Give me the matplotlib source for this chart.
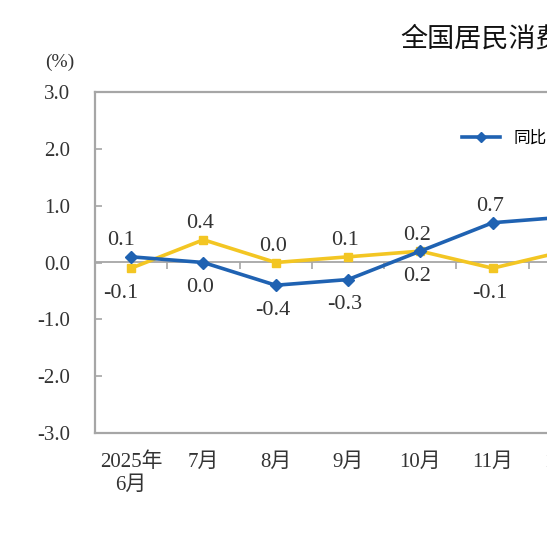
import matplotlib
matplotlib.use("Agg")
import matplotlib.pyplot as plt
from matplotlib.lines import Line2D

# ---- data ----
months = ["2025年\n6月", "7月", "8月", "9月", "10月", "11月", "12月"]
yoy = [0.1, 0.0, -0.4, -0.3, 0.2, 0.7, 0.8]     # 同比
mom = [-0.1, 0.4, 0.0, 0.1, 0.2, -0.1, 0.2]     # 环比
yticks = [-3.0, -2.0, -1.0, 0.0, 1.0, 2.0, 3.0]
ytick_labels = ["-3.0", "-2.0", "-1.0", "0.0", "1.0", "2.0", "3.0"]
title = "全国居民消费价格涨跌幅"
series_names = ["同比", "环比"]

BLUE = "#1F62B2"
YELLOW = "#F3C623"
GRAY = "#A6A6A6"
TXT = "#333333"
SERIF = ["Liberation Serif", "Noto Sans CJK SC"]
CJK = ["Noto Sans CJK SC", "DejaVu Sans"]

W = H = 547
fig = plt.figure(figsize=(W / 100, H / 100), dpi=100)

left_px, top_px, bottom_px = 95, 92, 433
slot_px = 72.3
n_slots = 8
ax = fig.add_axes([left_px / W, 1 - bottom_px / H, n_slots * slot_px / W, (bottom_px - top_px) / H])

x = list(range(len(months)))
ax.plot(x, yoy, color=BLUE, lw=2.6, marker="D", ms=6, mec=BLUE, mfc=BLUE, zorder=4, clip_on=False)
ax.plot(x, mom, color=YELLOW, lw=2.6, marker="s", ms=5.5, mec=YELLOW, mfc=YELLOW, zorder=3, clip_on=False)

ax.set_xlim(-0.5, n_slots - 0.5)
ax.set_ylim(yticks[0], yticks[-1])

# spines
for s in ["left", "top", "bottom"]:
    ax.spines[s].set_color(GRAY)
    ax.spines[s].set_linewidth(1.6)
ax.spines["right"].set_visible(False)

# y axis
ax.set_yticks(yticks)
ax.set_yticklabels(ytick_labels, family=SERIF, fontsize=15, color=TXT)
ax.tick_params(axis="y", direction="in", length=5, width=1.2, color=GRAY, pad=18)

# x axis labels at bottom
ax.set_xticks(x)
ax.set_xticklabels(months, family=SERIF, fontsize=15, color=TXT, linespacing=1.3)
ax.tick_params(axis="x", length=0, pad=14)

# zero line with boundary ticks
sec = ax.secondary_xaxis(0.5)
sec.set_xticks([i + 0.5 for i in range(n_slots)])
sec.set_xticklabels([])
sec.tick_params(direction="in", length=5, width=1.2, color=GRAY,
                labelbottom=False, labeltop=False)
for sp in sec.spines.values():
    sp.set_color(GRAY)
    sp.set_linewidth(1.3)

# data labels
px2pt = 0.72
for i in x:
    b, y_ = yoy[i], mom[i]
    if i == len(x) - 1:
        continue
    dx = -10 if i == 0 else -3
    if b >= y_:
        pairs = [(b, 1), (y_, -1)]
    else:
        pairs = [(b, -1), (y_, 1)]
    for val, side in pairs:
        off = 16 if side > 0 else -25
        ax.annotate(f"{val:.1f}", (i, val), xytext=(dx * px2pt, off * px2pt),
                    textcoords="offset points", ha="center", va="center",
                    family=SERIF, fontsize=16, color=TXT, annotation_clip=False)

# unit label and title
fig.text(60 / W, 1 - 62 / H, "(%)", family=SERIF, fontsize=14, color=TXT, ha="center", va="center")
fig.text(400 / W, 1 - 39 / H, title, family=CJK, fontsize=19.5, color="#111111", ha="left", va="center")

# legend
handles = [Line2D([], [], color=BLUE, lw=2.6, marker="D", ms=5),
           Line2D([], [], color=YELLOW, lw=2.6, marker="s", ms=5)]
fig.legend(handles, series_names, loc="center left", bbox_to_anchor=(462 / W, 1 - 138 / H),
           ncol=2, frameon=False, borderpad=0, borderaxespad=0, handlelength=2.3,
           handletextpad=0.8, columnspacing=1.5, prop={"family": CJK, "size": 12})

fig.savefig("out.png", dpi=100, facecolor="white")
